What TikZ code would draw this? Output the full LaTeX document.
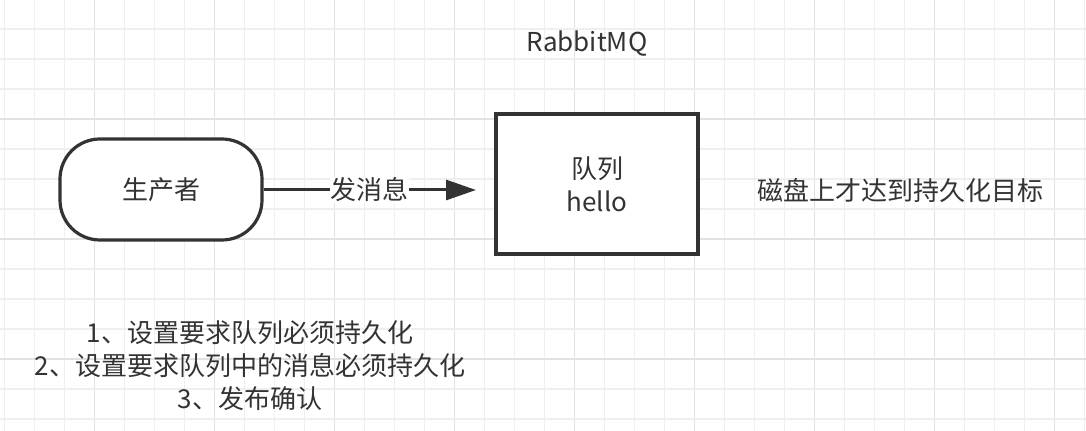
\documentclass[tikz,border=0pt]{standalone}
\usepackage{fontspec}
\setmainfont{Noto Sans CJK SC}
\usetikzlibrary{arrows.meta}
\definecolor{ink}{HTML}{333333}
\definecolor{gridminor}{HTML}{EFEFEF}
\definecolor{gridmajor}{HTML}{E2E2E2}
\tikzset{
  lbl/.style={text=ink, font=\fontsize{13pt}{16.5pt}\selectfont, inner sep=1pt},
  prodbox/.style={draw=ink, line width=1.6pt, rounded corners=20pt, fill=white,
    minimum width=101pt, minimum height=50.5pt, lbl},
  queuebox/.style={draw=ink, line width=1.8pt, fill=white,
    minimum width=101pt, minimum height=70pt, lbl, align=center},
  flow/.style={draw=ink, line width=1.5pt, -{Triangle[length=15pt,width=10pt]}},
}
\begin{document}
\begin{tikzpicture}[x=0.5pt,y=-0.5pt]
\useasboundingbox (0,0) rectangle (1086,431);
\fill[white] (0,0) rectangle (1086,431);
% grid
\foreach \i in {0,...,36} {
  \pgfmathsetmacro{\xx}{4.5+30*\i}
  \pgfmathtruncatemacro{\m}{mod(\i,4)}
  \ifnum\m=3 \draw[gridmajor,line width=0.6pt] (\xx,0) -- (\xx,431);
  \else \draw[gridminor,line width=0.6pt] (\xx,0) -- (\xx,431); \fi
}
\foreach \j in {0,...,14} {
  \pgfmathsetmacro{\yy}{-1+30*\j}
  \pgfmathtruncatemacro{\m}{mod(\j,4)}
  \ifnum\m=0 \draw[gridmajor,line width=0.6pt] (0,\yy) -- (1086,\yy);
  \else \draw[gridminor,line width=0.6pt] (0,\yy) -- (1086,\yy); \fi
}
% nodes
\node[lbl] (title) at (587,44) {RabbitMQ};
\node[prodbox] (prod) at (161,189.5) {生产者};
\node[queuebox] (queue) at (597,184) {队列\\hello};
\coordinate (tip) at (476,190);
\draw[flow] (prod.east |- tip) -- node[lbl, fill=white, inner sep=0.3pt] (msg) {发消息} (tip);
\node[lbl] (disk) at (900,191) {磁盘上才达到持久化目标};
\node[lbl, align=center] (notes) at (250,366) {1、设置要求队列必须持久化\\2、设置要求队列中的消息必须持久化\\3、发布确认};
\end{tikzpicture}
\end{document}
